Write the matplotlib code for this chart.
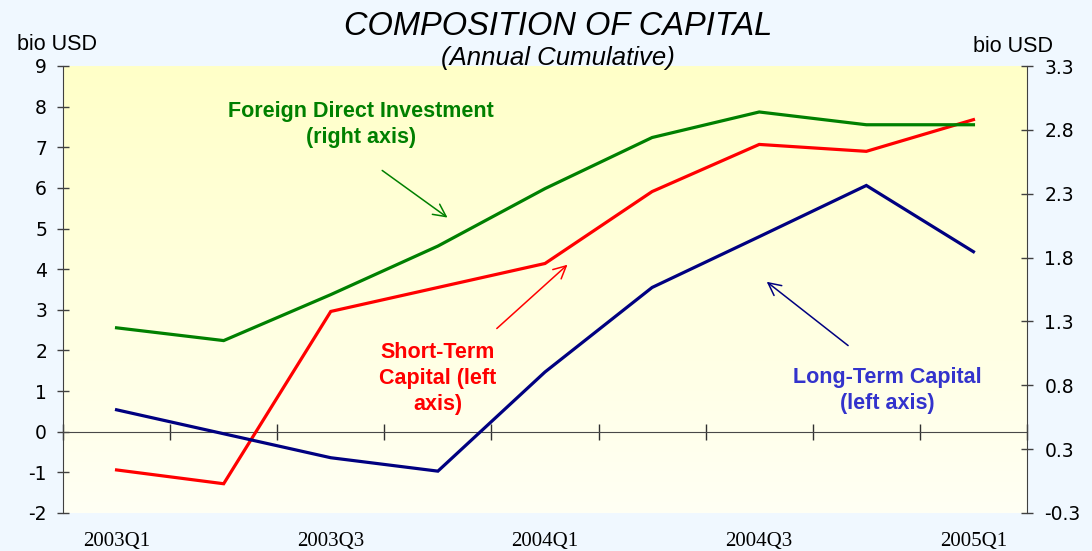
import numpy as np
import matplotlib
matplotlib.use("Agg")
import matplotlib.pyplot as plt
from matplotlib.colors import LinearSegmentedColormap

# quarters and cumulative flows, bio USD
quarters = ["2003Q1", "2003Q2", "2003Q3", "2003Q4", "2004Q1",
            "2004Q2", "2004Q3", "2004Q4", "2005Q1"]
short_term = [-0.94, -1.28, 2.96, 3.55, 4.14, 5.91, 7.07, 6.90, 7.68]
long_term = [0.54, -0.05, -0.64, -0.97, 1.47, 3.55, 4.80, 6.06, 4.43]
fdi = [1.20, 1.10, 1.46, 1.84, 2.29, 2.69, 2.89, 2.79, 2.79]   # right axis

left_ticks = list(range(-2, 10))
right_ticks = [-0.25, 0.25, 0.75, 1.25, 1.75, 2.25, 2.75, 3.25]
right_labels = ["-0.3", "0.3", "0.8", "1.3", "1.8", "2.3", "2.8", "3.3"]
xlabels_shown = quarters[::2]

num_font = "DejaVu Sans"
txt_font = "Liberation Sans"
axis_col = "#404040"

fig = plt.figure(figsize=(10.92, 5.51), dpi=100, facecolor="#F0F8FF")
ax = fig.add_axes([63 / 1092, 1 - 513 / 551, (1027 - 63) / 1092, (513 - 66) / 551])
ax2 = ax.twinx()

# pale yellow gradient in the plot area
cmap = LinearSegmentedColormap.from_list("bg", ["#FFFFF4", "#FFFFC8"])
grad = np.linspace(0, 1, 256).reshape(-1, 1)
ax.imshow(grad, cmap=cmap, origin="lower", aspect="auto",
          extent=[0, 1, 0, 1], transform=ax.transAxes, zorder=0)

x = np.arange(len(quarters))
ax.plot(x, short_term, color="#FF0000", lw=2.3, zorder=3, solid_joinstyle="miter")
ax.plot(x, long_term, color="#000080", lw=2.3, zorder=3, solid_joinstyle="miter")
ax2.plot(x, fdi, color="#008000", lw=2.3, zorder=3, solid_joinstyle="miter")

ax.set_xlim(-0.5, len(quarters) - 0.5)
ax.set_ylim(-2, 9)
ax2.set_ylim(-0.25, 3.25)

# left axis
ax.set_yticks(left_ticks)
ax.set_yticklabels([str(t) for t in left_ticks], fontfamily=num_font, fontsize=13.5)
ax.tick_params(axis="y", direction="inout", length=9, width=1, color=axis_col, pad=7)
# right axis
ax2.set_yticks(right_ticks)
ax2.set_yticklabels(right_labels, fontfamily=num_font, fontsize=13.5)
ax2.tick_params(axis="y", direction="inout", length=9, width=1, color=axis_col, pad=8)

for a in (ax, ax2):
    a.spines["top"].set_visible(False)
    a.spines["bottom"].set_visible(False)
    a.spines["left"].set_color(axis_col)
    a.spines["right"].set_color(axis_col)
    a.patch.set_visible(False)
ax.spines["right"].set_visible(False)
ax2.spines["left"].set_visible(False)

# category axis drawn at zero, with boundary ticks
ax.spines["bottom"].set_visible(True)
ax.spines["bottom"].set_position(("data", 0))
ax.spines["bottom"].set_color("#484848")
ax.set_xticks(np.arange(-0.5, len(quarters) + 0.5, 1), minor=True)
ax.set_xticks([])
ax.tick_params(axis="x", which="minor", direction="inout", length=12,
               width=1, color="#303030")

sec = ax.secondary_xaxis("bottom")
sec.set_xticks(x[::2])
sec.set_xticklabels(xlabels_shown, fontfamily="Liberation Serif", fontsize=15)
sec.tick_params(length=0, pad=14)
sec.spines["bottom"].set_visible(False)

# titles
fig.text(0.511, 0.952, "COMPOSITION OF CAPITAL", ha="center", va="center",
         fontsize=23.5, style="italic", fontfamily=txt_font)
fig.text(0.511, 0.895, "(Annual Cumulative)", ha="center", va="center",
         fontsize=18.5, style="italic", fontfamily=txt_font)
fig.text(57 / 1092, 1 - 45 / 551, "bio USD", ha="center", va="center",
         fontsize=15.5, fontfamily=txt_font)
fig.text(1013 / 1092, 1 - 47 / 551, "bio USD", ha="center", va="center",
         fontsize=15.5, fontfamily=txt_font)

# labels with arrows
def note(text, xy, xytext, color, tx, ty, tcol):
    ax.annotate("", xy=xy, xytext=xytext, zorder=4,
                arrowprops=dict(arrowstyle="->,head_length=0.9,head_width=0.45",
                                color=color, lw=1.1, shrinkA=0, shrinkB=0))
    ax.text(tx, ty, text, color=tcol, ha="center", va="center", fontsize=15.5,
            fontweight="bold", fontfamily=txt_font, linespacing=1.3, zorder=4)

note("Foreign Direct Investment\n(right axis)", (3.09, 5.27), (2.48, 6.43),
     "#008000", 2.28, 7.56, "#008000")
note("Short-Term\nCapital (left\naxis)", (4.21, 4.11), (3.55, 2.54),
     "#FF0000", 3.00, 1.31, "#FF0000")
note("Long-Term Capital\n(left axis)", (6.07, 3.69), (6.83, 2.12),
     "#000080", 7.20, 1.01, "#3333CC")

fig.savefig("out.png", dpi=100, facecolor=fig.get_facecolor())
